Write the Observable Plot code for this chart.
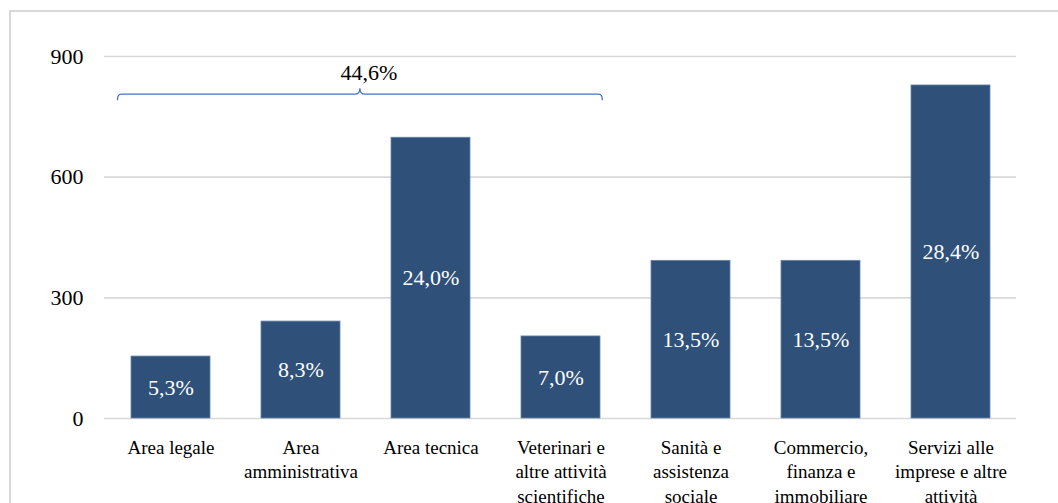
<!DOCTYPE html>
<html>
<head>
<meta charset="utf-8">
<script src="https://cdn.jsdelivr.net/npm/d3@7"></script>
<script src="https://cdn.jsdelivr.net/npm/@observablehq/plot@0.6"></script>
<style>
  html, body { margin: 0; padding: 0; width: 1058px; height: 503px; overflow: hidden; background: #fff; }
  #title { position: absolute; left: 12px; top: -19px; font: bold 21px 'Liberation Serif', serif; color: #3a3a3a; white-space: nowrap; }
  #frame { position: absolute; left: 9px; top: 10px; width: 1100px; height: 600px; border: 2px solid #d9d9d9; box-sizing: border-box; }
  #chart { position: absolute; left: 0; top: 0; }
  #chart svg, #chart svg text { font-family: 'Liberation Serif', 'Times New Roman', serif !important; }
</style>
</head>
<body>
<div id="title">anno 2011.</div>
<div id="frame"></div>
<div id="chart"></div>
<script>
const categories = [
  "Area legale",
  "Area\namministrativa",
  "Area tecnica",
  "Veterinari e\naltre attività\nscientifiche",
  "Sanità e\nassistenza\nsociale",
  "Commercio,\nfinanza e\nimmobiliare",
  "Servizi alle\nimprese e altre\nattività"
];
const values = [154, 241, 698, 204, 392, 392, 828];
const shares = ["5,3%", "8,3%", "24,0%", "7,0%", "13,5%", "13,5%", "28,4%"];
const yTicks = [0, 300, 600, 900];
const groupStart = "Area legale";
const groupEnd = "Veterinari e\naltre attività\nscientifiche";
const groupShare = "44,6%";
const groupBraceValue = 805;
const groupLabelValue = 858;

const data = categories.map((c, i) => ({cat: c, value: values[i], share: shares[i]}));
const serif = "'Liberation Serif', 'Times New Roman', serif";

const chart = Plot.plot({
  width: 1058,
  height: 503,
  marginLeft: 104,
  marginRight: 42,
  marginTop: 56,
  marginBottom: 85,
  style: {fontFamily: serif, fontSize: "22px", background: "transparent", color: "#000"},
  x: {domain: categories, paddingInner: 0.394, paddingOuter: 0.197, axis: null},
  y: {domain: [0, 900], axis: null},
  marks: [
    Plot.ruleY(yTicks, {stroke: "#d9d9d9", strokeWidth: 1.6}),
    Plot.barY(data, {x: "cat", y: "value", fill: "#2E5079", stroke: "#6a86aa", strokeWidth: 0.8}),
    Plot.text(data, {x: "cat", y: d => d.value / 2, text: "share", fill: "#ffffff", fontSize: 22, fontFamily: serif}),
    Plot.text(yTicks, {y: d => d, text: d => String(d), frameAnchor: "left", textAnchor: "end", dx: -21, fill: "#000", fontSize: 22, fontFamily: serif}),
    Plot.text(data, {x: "cat", y: () => 0, text: "cat", lineAnchor: "top", dy: 18, lineHeight: 1.29, fill: "#000", fontSize: 19, fontFamily: serif})
  ]
});
document.getElementById("chart").appendChild(chart);

// Bracket annotation over the first four categories, positioned with the plot's scales
const sx = chart.scale("x");
const sy = chart.scale("y");
const bw = sx.bandwidth;
const x0 = sx.apply(groupStart) - 0.172 * bw;
const x1 = sx.apply(groupEnd) + 1.03 * bw;
const xm = (x0 + x1) / 2;
const yb = sy.apply(groupBraceValue);
const path = `M${x0},${yb + 6} Q${x0},${yb} ${x0 + 4},${yb} L${xm - 5},${yb} Q${xm},${yb} ${xm},${yb - 6} Q${xm},${yb} ${xm + 5},${yb} L${x1 - 4},${yb} Q${x1},${yb} ${x1},${yb + 6}`;
const svg = d3.select(chart);
svg.append("path").attr("d", path).attr("fill", "none").attr("stroke", "#4472C4").attr("stroke-width", 1.3);
svg.append("text")
  .attr("x", xm + 9)
  .attr("y", sy.apply(groupLabelValue))
  .attr("dy", "0.32em")
  .attr("text-anchor", "middle")
  .attr("font-size", 22)
  .attr("font-family", serif)
  .attr("fill", "#000")
  .text(groupShare);
</script>
</body>
</html>
